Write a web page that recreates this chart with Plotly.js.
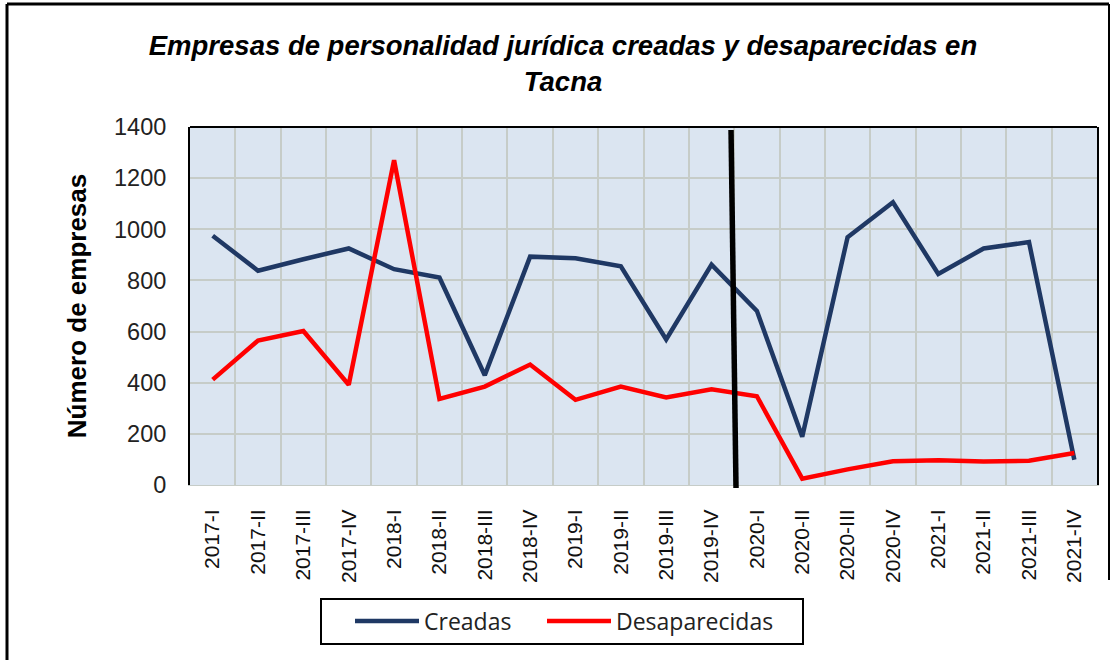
<!DOCTYPE html>
<html>
<head>
<meta charset="utf-8">
<script src="https://cdn.plot.ly/plotly-3.0.1.min.js"></script>
<style>
  html, body { margin: 0; padding: 0; background: #ffffff; }
  #chart { width: 1115px; height: 660px; }
</style>
</head>
<body>
<div id="chart"></div>
<script>
// ---- Data ----
const quarters = ["2017-I","2017-II","2017-III","2017-IV","2018-I","2018-II","2018-III","2018-IV",
                  "2019-I","2019-II","2019-III","2019-IV","2020-I","2020-II","2020-III","2020-IV",
                  "2021-I","2021-II","2021-III","2021-IV"];
const creadas       = [975, 838, 883, 925, 844, 811, 429, 893, 887, 855, 569, 862, 681, 189, 969, 1106, 825, 925, 950, 99];
const desaparecidas = [412, 565, 602, 392, 1270, 337, 385, 471, 333, 385, 342, 374, 347, 25, 61, 93, 97, 92, 95, 125];
const seriesNames = ["Creadas", "Desaparecidas"];
const yTicks = [0, 200, 400, 600, 800, 1000, 1200, 1400];

// ---- Layout geometry (pixels) ----
const W = 1115, H = 660;
const plotL = 190, plotR = 1097, plotT = 127, plotB = 485;
const pw = plotR - plotL, ph = plotB - plotT;
const px = v => (v - plotL) / pw;      // page px -> paper x
const py = v => (plotB - v) / ph;      // page px -> paper y

const navy = "#1F3864";
const red = "#FF0000";

const traces = [
  { type: "scatter", mode: "lines", name: seriesNames[0], x: quarters, y: creadas,
    line: { color: navy, width: 4.5 }, legend: "legend" },
  { type: "scatter", mode: "lines", name: seriesNames[1], x: quarters, y: desaparecidas,
    line: { color: red, width: 4.5 }, legend: "legend2" }
];

const legendBase = {
  orientation: "h",
  xref: "paper", yref: "paper",
  xanchor: "left",
  y: py(621), yanchor: "middle",
  bgcolor: "rgba(0,0,0,0)",
  borderwidth: 0,
  itemwidth: 64,
  font: { family: "Open Sans, sans-serif", size: 23, color: "#222" }
};

const layout = {
  width: W, height: H,
  margin: { l: plotL, r: W - plotR, t: plotT, b: H - plotB, pad: 0 },
  paper_bgcolor: "#ffffff",
  plot_bgcolor: "#DBE5F1",
  title: {
    text: "Empresas de personalidad jurídica creadas y desaparecidas en<br>Tacna",
    font: { family: "Liberation Sans, Arial, sans-serif", size: 27.5, weight: "bold", style: "italic", color: "#000" },
    x: 563 / W, xref: "container", xanchor: "center",
    y: 1 - 55 / H, yref: "container", yanchor: "top"
  },
  xaxis: {
    type: "category",
    range: [-0.5, quarters.length - 0.5],
    tickson: "boundaries",
    showgrid: true, gridcolor: "#C6CCC8", gridwidth: 2,
    ticks: "", tickangle: -90,
    ticklabelstandoff: 15,
    tickfont: { family: "Liberation Sans, Arial, sans-serif", size: 21, color: "#111" },
    showline: true, linecolor: "#C6CCC8", linewidth: 1,
    zeroline: false, fixedrange: true
  },
  yaxis: {
    range: [0, 1400],
    tickvals: yTicks,
    showgrid: true, gridcolor: "#C6CCC8", gridwidth: 2,
    ticks: "", ticklabelstandoff: 17,
    tickfont: { family: "Liberation Sans, Arial, sans-serif", size: 23.5, color: "#222" },
    showline: true, mirror: true, linecolor: "#000", linewidth: 2,
    zeroline: false, fixedrange: true,
    title: { text: "Número de empresas", standoff: 20,
             font: { family: "Liberation Sans, Arial, sans-serif", size: 26, weight: "bold", color: "#000" } }
  },
  showlegend: true,
  legend: Object.assign({}, legendBase, { x: px(350) }),
  legend2: Object.assign({}, legendBase, { x: px(542) }),
  shapes: [
    // top border of plot area
    { type: "line", xref: "paper", yref: "paper", x0: 0, x1: 1, y0: 1, y1: 1,
      line: { color: "#000", width: 2 } },
    // divider between 2019-IV and 2020-I
    { type: "line", xref: "x", yref: "paper", x0: 11.43, x1: 11.54, y0: py(130), y1: py(488),
      line: { color: "#000", width: 5.5 }, layer: "above" },
    // legend frame
    { type: "rect", xref: "paper", yref: "paper", x0: px(321), x1: px(803), y0: py(644), y1: py(599),
      line: { color: "#000", width: 2 }, fillcolor: "rgba(0,0,0,0)" },
    // outer frame
    { type: "line", xref: "paper", yref: "paper", x0: px(7), x1: px(7), y0: py(4), y1: py(660),
      line: { color: "#000", width: 3 } },
    { type: "line", xref: "paper", yref: "paper", x0: px(7), x1: px(1109), y0: py(4), y1: py(4),
      line: { color: "#000", width: 3 } },
    { type: "line", xref: "paper", yref: "paper", x0: px(1109), x1: px(1109), y0: py(4), y1: py(580),
      line: { color: "#000", width: 2 } }
  ]
};

Plotly.newPlot("chart", traces, layout, { displayModeBar: false, staticPlot: true });
</script>
</body>
</html>
